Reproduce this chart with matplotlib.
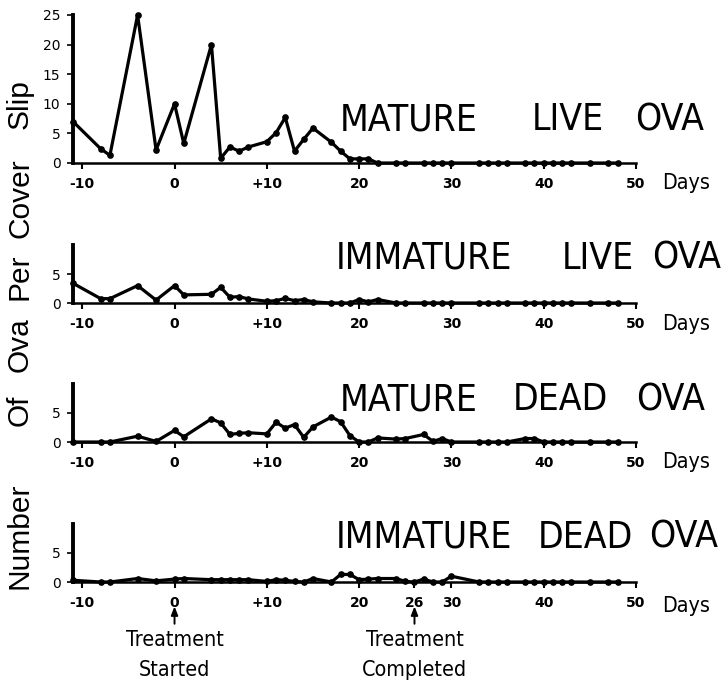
import matplotlib

matplotlib.use("Agg")
import matplotlib.pyplot as plt
import numpy as np
from matplotlib import font_manager

W, H = 723, 684

# sampling days (days relative to start of treatment)
days = [-11, -8, -7, -4, -2, 0, 1, 4, 5, 6, 7, 8, 10, 11, 12, 13, 14, 15, 17, 18,
        19, 20, 21, 22, 24, 25, 27, 28, 29, 30, 33, 34, 35, 36, 38, 39, 40, 41,
        42, 43, 45, 47, 48]
days_imm_dead = [-11, -8, -7, -4, -2, 0, 1, 4, 5, 6, 7, 8, 10, 11, 12, 13, 14, 15,
                 17, 18, 19, 20, 21, 22, 24, 25, 26, 27, 28, 29, 30, 33, 34, 35, 36,
                 38, 39, 40, 41, 42, 43, 45, 47, 48]

mature_live = [7.0, 2.4, 1.3, 25.0, 2.2, 10.0, 3.3, 20.0, 0.8, 2.7, 2.0, 2.7, 3.6,
               5.1, 7.7, 2.0, 4.0, 5.9, 3.5, 2.0, 0.7, 0.7, 0.7, 0, 0, 0, 0, 0, 0,
               0, 0, 0, 0, 0, 0, 0, 0, 0, 0, 0, 0, 0, 0]
immature_live = [3.4, 0.75, 0.75, 3.0, 0.5, 3.0, 1.4, 1.5, 2.7, 1.0, 1.1, 0.7, 0.3,
                 0.4, 0.8, 0.4, 0.6, 0.2, 0, 0, 0, 0.6, 0.2, 0.6, 0, 0, 0, 0, 0, 0,
                 0, 0, 0, 0, 0, 0, 0, 0, 0, 0, 0, 0, 0]
mature_dead = [0, 0, 0, 1.0, 0.1, 2.0, 0.9, 4.0, 3.3, 1.3, 1.5, 1.6, 1.4, 3.4, 2.4,
               3.0, 0.8, 2.6, 4.3, 3.5, 1.1, 0, 0, 0.7, 0.5, 0.6, 1.3, 0.1, 0.6, 0,
               0, 0, 0, 0, 0.6, 0.6, 0, 0, 0, 0, 0, 0, 0]
immature_dead = [0.3, 0, 0, 0.6, 0.2, 0.5, 0.6, 0.4, 0.4, 0.4, 0.4, 0.4, 0.1, 0.4,
                 0.3, 0.1, 0, 0.6, 0, 1.3, 1.3, 0.4, 0.5, 0.6, 0.6, 0.1, 0, 0.5, 0,
                 0, 1.0, 0, 0, 0, 0, 0, 0, 0, 0, 0, 0, 0, 0, 0]

xticks = [-10, 0, 10, 20, 30, 40, 50]
xticklabels = ["-10", "0", "+10", "20", "30", "40", "50"]
xticks_last = [-10, 0, 10, 20, 26, 30, 40, 50]
xticklabels_last = ["-10", "0", "+10", "20", "26", "30", "40", "50"]

# (word, centre x, width) in pixels
titles = [
    [("MATURE", 409, 138), ("LIVE", 568, 72), ("OVA", 670, 78)],
    [("IMMATURE", 424, 188), ("LIVE", 598, 68), ("OVA", 687, 64)],
    [("MATURE", 409, 138), ("DEAD", 560, 80), ("OVA", 671, 78)],
    [("IMMATURE", 424, 188), ("DEAD", 585, 80), ("OVA", 684, 68)],
]
title_y = [120, 258, 400, 537]
days_y = [183, 324, 462, 606]
# (word, centre y, length) in pixels
ylabel_words = [("Slip", 104, 52), ("Cover", 198, 66), ("Per", 277, 47),
                ("Ova", 345, 54), ("Of", 410, 30), ("Number", 536, 126)]

# prefer a condensed face for the lettering if one is installed
condensed = None
for f in font_manager.fontManager.ttflist:
    low = f.fname.lower()
    if "condensed" in low or "narrow" in low or f.stretch in ("condensed", "semi-condensed"):
        if "bold" not in low and "oblique" not in low and "italic" not in low:
            condensed = f
            break
if condensed is not None:
    LETTER = dict(family=[condensed.name, "DejaVu Sans"], stretch=condensed.stretch)
else:
    LETTER = dict(family=["DejaVu Sans"])
PLAIN = dict(family=["Liberation Sans", "DejaVu Sans"])


def px(x, y):
    return x / W, 1 - y / H


fig = plt.figure(figsize=(W / 100, H / 100), dpi=100, facecolor="white")
groups = {"title": [], "days": [], "ylab": [], "note": []}

boxes = [(163, 15), (303, 245), (442, 384), (582, 524)]
series = [(days, mature_live, 25, [0, 5, 10, 15, 20, 25]),
          (days, immature_live, 10, [0, 5]),
          (days, mature_dead, 10, [0, 5]),
          (days_imm_dead, immature_dead, 10, [0, 5])]

axes = []
for i, ((base, top), (xs, ys, ymax, yticks)) in enumerate(zip(boxes, series)):
    left, width = 73, 563
    ax = fig.add_axes([left / W, (H - base) / H, width / W, (base - top) / H])
    ax.plot(xs, ys, color="black", lw=2.3, marker="o", ms=3.8, clip_on=False)
    ax.set_xlim(-11, 50)
    ax.set_ylim(0, ymax)
    for s in ["top", "right"]:
        ax.spines[s].set_visible(False)
    ax.spines["left"].set_linewidth(2.8)
    ax.spines["bottom"].set_linewidth(1.8)
    if i == 3:
        ax.set_xticks(xticks_last)
        ax.set_xticklabels(xticklabels_last)
    else:
        ax.set_xticks(xticks)
        ax.set_xticklabels(xticklabels)
    ax.set_yticks(yticks)
    ax.set_yticklabels([str(v) for v in yticks])
    ax.tick_params(axis="x", direction="out", length=4, width=1.5, pad=6,
                   labelsize=10)
    ax.tick_params(axis="y", direction="out", length=4, width=1.2, pad=5,
                   labelsize=10)
    for lab in ax.get_xticklabels():
        lab.set_fontweight("bold")
    ax.patch.set_alpha(0)

    for word, cx, wd in titles[i]:
        t = fig.text(*px(cx, title_y[i]), word, fontsize=28, ha="center",
                     va="center", **LETTER)
        groups["title"].append((t, wd, False))
    t = fig.text(*px(686, days_y[i]), "Days", fontsize=18, ha="center",
                 va="center", **LETTER)
    groups["days"].append((t, 48, False))
    axes.append(ax)

for word, cy, ln in ylabel_words:
    t = fig.text(*px(20, cy), word, fontsize=22, rotation=90, ha="center",
                 va="center", **PLAIN)
    groups["ylab"].append((t, ln, True))

ax4 = axes[3]
trans = ax4.get_xaxis_transform()
for day, line2, w1, w2 in [(0, "Started", 102, 67), (26, "Completed", 102, 97)]:
    ax4.annotate("", xy=(day, -0.42), xytext=(day, -0.72), xycoords=trans,
                 textcoords=trans,
                 arrowprops=dict(arrowstyle="-|>,head_length=0.5,head_width=0.2",
                                 color="black", lw=1.4, shrinkA=0, shrinkB=0))
    t = ax4.text(day, -1.0, "Treatment", transform=trans, fontsize=17,
                 ha="center", va="center", **LETTER)
    groups["note"].append((t, w1, False))
    t = ax4.text(day, -1.52, line2, transform=trans, fontsize=17,
                 ha="center", va="center", **LETTER)
    groups["note"].append((t, w2, False))

# one lettering size per group, chosen so the words match the original lengths
fig.canvas.draw()
renderer = fig.canvas.get_renderer()
for items in groups.values():
    scales = []
    for t, target, vertical in items:
        bb = t.get_window_extent(renderer)
        scales.append(target / (bb.height if vertical else bb.width))
    k = float(np.median(scales))
    for t, _, _ in items:
        t.set_fontsize(t.get_fontsize() * k)

fig.savefig("out.png", dpi=100, facecolor="white")
